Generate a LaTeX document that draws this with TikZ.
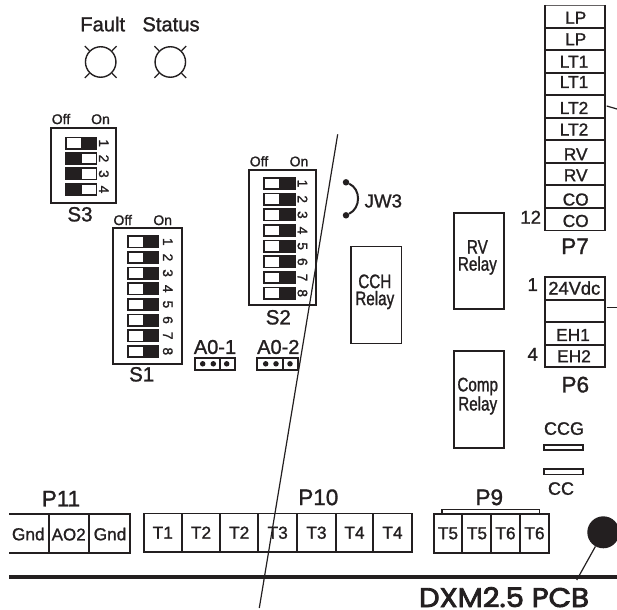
\documentclass[tikz,border=0pt]{standalone}
\usepackage{fontspec}
\setmainfont[FakeBold=1.2]{Liberation Sans}
\newfontfamily\condf[FakeStretch=0.78,FakeBold=1.2]{Liberation Sans}
\newfontfamily\pcbf[FakeBold=3,FakeStretch=1.08]{Poppins}
\definecolor{ink}{HTML}{231F20}
\newcommand{\digoff}{6.7}
\tikzset{
  txt/.style={inner sep=0pt,text=ink,font=\fontsize{#1}{#1}\selectfont,text height=0.72*#1 pt,text depth=0pt},
  relaytxt/.style={inner sep=0pt,text=ink,font=\condf\fontsize{19.5}{17}\selectfont,align=center,anchor=north},
  thin line/.style={draw=ink,line width=1.2pt},
  box line/.style={draw=ink,line width=1.8pt},
  heavy line/.style={draw=ink,line width=2pt},
  digit/.style={txt=13.8,rotate=-90},
  pinlabel/.style={txt=17.3},
  connname/.style={txt=22.5},
  swname/.style={txt=20.5},
  swstate/.style={txt=14},
  dotpin/.style={circle,fill=ink,inner sep=0pt,minimum size=5.5pt},
}
\newcommand{\dipwhiteleft}[5]{%
  \fill[ink] (#1,#4) rectangle (#3,#4+13);
  \fill[white] (#1+1.7,#4+1.7) rectangle (#2,#4+11.3);
  \node[digit] (dg#5) at (#3+\digoff,#4+6.5) {#5};}
\newcommand{\dipwhiteright}[5]{%
  \fill[ink] (#1,#4) rectangle (#3,#4+13);
  \fill[white] (#2,#4+1.7) rectangle (#3-1.7,#4+11.3);
  \node[digit] (dg#5) at (#3+\digoff,#4+6.5) {#5};}
\begin{document}
\begin{tikzpicture}[x=1pt,y=-1pt]
\useasboundingbox (0,0) rectangle (617,609);
\fill[white] (0,0) rectangle (617,609);

% LEDs
\node[txt=20.2] (fault) at (102.7,24) {Fault};
\node[txt=20.2] (status) at (171,24) {Status};
\node[circle,draw=ink,line width=1.4pt,minimum size=30.5pt,inner sep=0pt] (ledf) at (100.7,62) {};
\node[circle,draw=ink,line width=1.4pt,minimum size=30.5pt,inner sep=0pt] (leds) at (170.3,62) {};
\foreach \c in {ledf,leds}
  \foreach \a in {45,135,225,315}
    \draw[thin line] (\c.\a) -- ([shift={(\a:6.5pt)}]\c.\a);

% S3
\draw[box line] (51,128) rectangle (116,203);
\node[swstate] (s3off) at (61,119) {Off};
\node[swstate] (s3on) at (100.5,119) {On};
\dipwhiteleft{65.3}{80.5}{97.3}{136.7}{1}
\dipwhiteright{65.3}{82}{97.3}{152}{2}
\dipwhiteright{65.3}{82}{97.3}{167.4}{3}
\dipwhiteright{65.3}{82}{97.3}{183}{4}
\node[swname] (s3) at (80,214) {S3};

% S1
\renewcommand{\digoff}{8.7}
\draw[box line] (113,228.3) rectangle (181.7,364);
\node[swstate] (s1off) at (122.7,220) {Off};
\node[swstate] (s1on) at (162.7,220) {On};
\foreach \n [evaluate=\n as \yy using {235.3+15.65*(\n-1)}] in {1,...,8}
  {\dipwhiteleft{127.3}{143}{159.3}{\yy}{\n}}
\node[swname] (s1) at (141.7,374) {S1};

% S2
\renewcommand{\digoff}{7}
\draw[box line] (249,170) rectangle (316.3,305.3);
\node[swstate] (s2off) at (259,161.3) {Off};
\node[swstate] (s2on) at (299,161.3) {On};
\foreach \n [evaluate=\n as \yy using {177+15.67*(\n-1)}] in {1,...,8}
  {\dipwhiteleft{263.3}{279}{295.7}{\yy}{\n}}
\node[swname] (s2) at (278.3,317) {S2};

% A0 headers
\node[txt=20] (a01) at (215,346.7) {A0-1};
\node[txt=20] (a02) at (278.3,346.7) {A0-2};
\draw[box line] (194.7,358) rectangle (235.3,369.7);
\draw[box line] (220.3,358) -- (220.3,369.7);
\node[dotpin] (a1a) at (202.7,363.8) {};
\node[dotpin] (a1b) at (213.3,363.8) {};
\node[dotpin] (a1c) at (226.7,363.8) {};
\draw[box line] (257.3,358) rectangle (298,369.7);
\draw[box line] (283.3,358) -- (283.3,369.7);
\node[dotpin] (a2a) at (265.7,363.8) {};
\node[dotpin] (a2b) at (276,363.8) {};
\node[dotpin] (a2c) at (290,363.8) {};

% JW3
\node[circle,fill=ink,inner sep=0pt,minimum size=6.5pt] (jwa) at (346,182.3) {};
\node[circle,fill=ink,inner sep=0pt,minimum size=6.5pt] (jwb) at (346,215.3) {};
\draw[draw=ink,line width=2pt] (jwa) .. controls (361,189) and (361,208) .. (jwb);
\node[txt=18.7] (jw3) at (383.3,200.7) {JW3};

% Long diagonal line
\coordinate (diagtop) at (337.7,134.3);
\coordinate (diagbot) at (259.3,608);
\draw[thin line] (diagtop) -- (diagbot);

% Relays
\node[draw=ink,line width=1.7pt,minimum width=50.7pt,minimum height=97pt,inner sep=0pt,anchor=north west] (cch) at (350,245.7) {};
\node[relaytxt] (cchtxt) at (374.8,274.3) {CCH\\Relay};
\node[draw=ink,line width=1.9pt,minimum width=50.3pt,minimum height=96.3pt,inner sep=0pt,anchor=north west] (rv) at (452.7,211.7) {};
\node[relaytxt] (rvtxt) at (477.4,240) {RV\\Relay};
\node[draw=ink,line width=1.9pt,minimum width=50.3pt,minimum height=96.7pt,inner sep=0pt,anchor=north west] (comp) at (452.7,350) {};
\node[relaytxt,font=\condf\fontsize{19.5}{16.5}\selectfont] (comptxt) at (477.7,377.5) {Comp\\Relay};

% P7
\draw[draw=ink!70,line width=1pt] (544.7,5.7) -- (604.7,5.7);
\draw[heavy line] (544.7,5) -- (544.7,230.7) (604.7,5) -- (604.7,230.7);
\foreach \yy in {27.7,50,72.7,95,117.7,140.3,162.7,185.3,207.7}
  \draw[heavy line] (544.7,\yy) -- (604.7,\yy);
\draw[draw=ink,line width=1.5pt] (544.7,230.7) -- (604.7,230.7);
\node[pinlabel] (p7a) at (575.7,17.5) {LP};
\node[pinlabel] (p7b) at (575.7,39) {LP};
\node[pinlabel] (p7c) at (574,61.5) {LT1};
\node[pinlabel] (p7d) at (574,81.7) {LT1};
\node[pinlabel] (p7e) at (574,107.7) {LT2};
\node[pinlabel] (p7f) at (574,129.3) {LT2};
\node[pinlabel] (p7g) at (575.7,154) {RV};
\node[pinlabel] (p7h) at (575.7,175) {RV};
\node[pinlabel] (p7i) at (575.7,199.3) {CO};
\node[pinlabel] (p7j) at (575.7,220.7) {CO};
\node[txt=18.5] (n12) at (530.7,217) {12};
\node[connname] (p7) at (575,246) {P7};
\coordinate (p7tickL) at (606.7,106);
\coordinate (p7tickR) at (617,109);
\draw[thin line] (p7tickL) -- (p7tickR);

% P6
\draw[heavy line] (544.7,277.3) rectangle (604.7,367.3);
\foreach \yy in {300,322,345}
  \draw[heavy line] (544.7,\yy) -- (604.7,\yy);
\node[txt=18.3] (p6a) at (574.3,288) {24Vdc};
\node[pinlabel] (p6c) at (573,334.7) {EH1};
\node[pinlabel] (p6d) at (574,356) {EH2};
\node[txt=18.5] (n1) at (532.7,284.3) {1};
\node[txt=18.5] (n4) at (532.7,354) {4};
\node[connname] (p6) at (575.3,384.3) {P6};
\coordinate (p6tickL) at (606.7,307.3);
\coordinate (p6tickR) at (617,307.3);
\draw[thin line] (p6tickL) -- (p6tickR);

% CCG / CC
\node[txt=18] (ccg) at (564,428.3) {CCG};
\draw[box line] (544.3,445) rectangle (583,450.3);
\draw[box line] (544.3,469) rectangle (583,474.5);
\node[txt=18] (cc) at (561,488.3) {CC};

% P11
\node[connname] (p11) at (61,498.3) {P11};
\draw[box line] (9,513.7) -- (130,513.7) -- (130,552.7) -- (9,552.7);
\draw[box line] (48.7,513.7) -- (48.7,552.7) (89.3,513.7) -- (89.3,552.7);
\node[pinlabel] (g1) at (28.3,534) {Gnd};
\node[txt=17] (ao2) at (68.7,534.3) {AO2};
\node[pinlabel] (g2) at (110,534) {Gnd};

% P10
\node[connname] (p10) at (318.3,497) {P10};
\draw[box line] (143.7,513.5) rectangle (411.7,552.2);
\foreach \xx in {182,220,258.3,297,335.7,373.3}
  \draw[box line] (\xx,513.5) -- (\xx,552.2);
\node[pinlabel] (t1) at (162.8,532.5) {T1};
\node[pinlabel] (t2) at (201,532.5) {T2};
\node[pinlabel] (t3) at (239.2,532.5) {T2};
\node[pinlabel] (t4) at (277.7,532.5) {T3};
\node[pinlabel] (t5) at (316.5,532.5) {T3};
\node[pinlabel] (t6) at (354.5,532.5) {T4};
\node[pinlabel] (t7) at (392.5,532.5) {T4};

% P9
\node[connname] (p9) at (489.3,497) {P9};
\draw[draw=ink,line width=1.2pt] (442,514) -- (442,509.5) -- (539.3,509.5) -- (539.3,514);
\draw[box line] (433.7,514) rectangle (548.7,552.7);
\foreach \xx in {462.3,491,520}
  \draw[box line] (\xx,514) -- (\xx,552.7);
\node[pinlabel] (u1) at (448,533) {T5};
\node[pinlabel] (u2) at (477,533) {T5};
\node[pinlabel] (u3) at (505.5,533) {T6};
\node[pinlabel] (u4) at (534.5,533) {T6};

% Board edge, marker and title
\draw[draw=ink,line width=4pt] (9,576.7) -- (617,576.7);
\node[circle,fill=ink,inner sep=0pt,minimum size=32pt] (mark) at (603.3,532.3) {};
\node[inner sep=0pt,text=ink,font=\pcbf\fontsize{27}{27}\selectfont,text height=19pt,text depth=0pt] (pcb) at (504,597.5) {DXM2.5 PCB};
\coordinate (markend) at (576.7,580);
\draw[thin line] (mark) -- (markend);
\end{tikzpicture}
\end{document}
